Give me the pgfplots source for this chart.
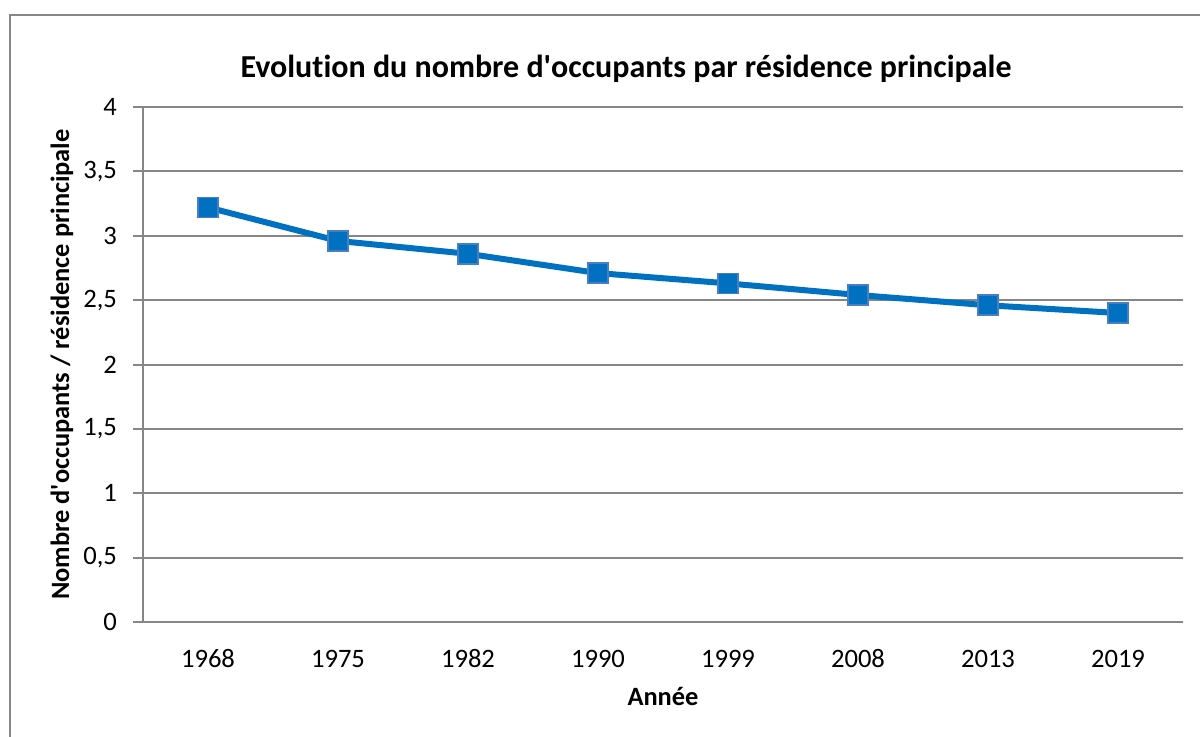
\documentclass[border=0pt]{standalone}
\usepackage{pgfplots}
\pgfplotsset{compat=1.18}
\usepackage{fontspec}
\setmainfont{Carlito}[Ligatures={NoCommon}]
\definecolor{lineblue}{RGB}{0,112,192}
\definecolor{markedge}{RGB}{74,126,196}
\definecolor{gridgray}{RGB}{134,134,134}
\begin{document}
\begin{tikzpicture}[x=0.5pt,y=-0.5pt]
\useasboundingbox (0,0) rectangle (1200,737);
\draw[gridgray, line width=1pt] (10,745) -- (10,15) -- (1210,15);
\begin{axis}[
  at={(71.5pt,-311pt)}, anchor=south west,
  scale only axis, width=520pt, height=257.5pt,
  xmin=-0.5, xmax=7.5, ymin=0, ymax=4,
  xtick={0,...,7},
  xticklabels={1968,1975,1982,1990,1999,2008,2013,2019},
  ytick={0,0.5,...,4},
  axis x line*=bottom, axis y line*=left,
  axis line style={gridgray, line width=1pt, -},
  ymajorgrids, grid style={gridgray, line width=1pt},
  tick align=outside, major tick length=5pt,
  ytick style={gridgray, line width=1pt},
  xtick style={draw=none},
  ytick pos=left,
  tick label style={font=\fontsize{13.3}{15}\selectfont},
  /pgf/number format/use comma,
  /pgf/number format/assume math mode=true,
  yticklabel style={xshift=-4.5pt},
  xticklabel style={anchor=base, yshift=-17.5pt},
  every axis x label/.style={at={(axis description cs:0.5,0)}, anchor=base, yshift=-41.5pt},
  every axis y label/.style={at={([xshift=-40.5pt]axis description cs:0,0.5)}, anchor=center, rotate=90},
  xlabel={\bfseries\fontsize{13.2}{15}\selectfont Année},
  ylabel={\bfseries\fontsize{13.2}{15}\selectfont Nombre d\textquotesingle occupants / résidence principale},
]
\addplot[lineblue, line width=3pt, mark=square*, mark size=5pt,
  mark options={fill=lineblue, draw=markedge, line width=0.8pt}]
  coordinates {(0,3.22) (1,2.96) (2,2.86) (3,2.71) (4,2.63) (5,2.54) (6,2.46) (7,2.40)};
\end{axis}
\node[anchor=base, font=\bfseries\fontsize{16}{18}\selectfont] at (626,78) {Evolution du nombre d\textquotesingle occupants par résidence principale};
\end{tikzpicture}
\end{document}
